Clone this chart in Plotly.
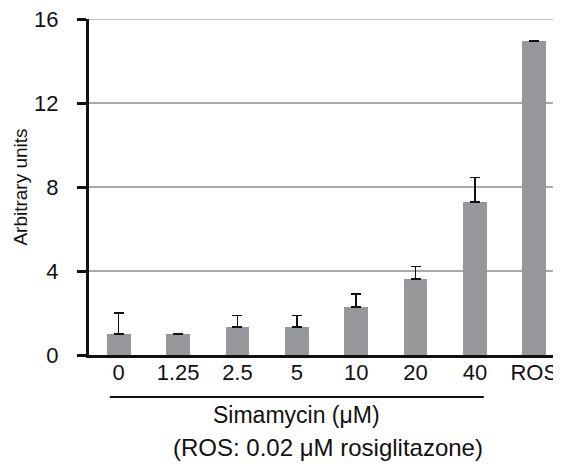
import plotly.graph_objects as go

categories = ["0", "1.25", "2.5", "5", "10", "20", "40", "ROS"]
values = [1.0, 1.0, 1.33, 1.33, 2.29, 3.62, 7.29, 14.95]
errors = [1.0, 0.0, 0.56, 0.56, 0.62, 0.59, 1.17, 0.0]
y_ticks = [0, 4, 8, 12, 16]

FONT = "Liberation Sans, Arial, sans-serif"

fig = go.Figure()
fig.add_trace(go.Bar(
    x=list(range(len(categories))),
    y=values,
    width=0.4,
    marker=dict(color="#96979b", line=dict(width=0)),
    error_y=dict(type="data", array=errors, symmetric=False, arrayminus=[0]*len(errors),
                 color="#111111", thickness=1.5, width=5),
))

# page body has an 8px default margin, so the figure is 8px smaller
fig.update_layout(
    width=553, height=458,
    margin=dict(l=81, r=0, t=11, b=111),
    paper_bgcolor="white", plot_bgcolor="white",
    showlegend=False,
    font=dict(family=FONT, color="#111111", size=21),
    bargap=0,
)
fig.update_xaxes(
    range=[-0.5, 7.45],
    tickmode="array", tickvals=list(range(len(categories))), ticktext=categories,
    showline=True, linecolor="#111111", linewidth=3,
    ticks="", showgrid=False, zeroline=False,
    tickfont=dict(size=22), ticklabelstandoff=-4, ticklabeloverflow="allow",
)
fig.update_yaxes(
    range=[0, 16],
    tickmode="array", tickvals=y_ticks, ticktext=[str(v) for v in y_ticks],
    showline=True, linecolor="#111111", linewidth=3,
    ticks="outside", ticklen=9, tickwidth=3, tickcolor="#111111",
    showgrid=True, gridcolor="#aaaaaa", gridwidth=1.5, zeroline=False,
    tickfont=dict(size=22), ticklabelstandoff=14, ticklabeloverflow="allow",
    title=dict(text="Arbitrary units", font=dict(size=19), standoff=2),
)

# top gridline (plotly drops the grid line lying on the plot edge)
fig.add_shape(type="line", xref="paper", yref="y", x0=0, x1=1, y0=y_ticks[-1], y1=y_ticks[-1],
              line=dict(color="#aaaaaa", width=1.5), layer="below")

fig.add_shape(type="line", xref="x", yref="paper", x0=-0.15, x1=6.15, y0=-0.125, y1=-0.125,
              line=dict(color="#111111", width=2))
fig.add_annotation(text="Simamycin (μM)", xref="x", yref="paper", x=3.0, y=-0.1786,
                   showarrow=False, xanchor="center", yanchor="middle", font=dict(size=23))
fig.add_annotation(text="(ROS: 0.02 μM rosiglitazone)", xref="x", yref="paper", x=3.52, y=-0.275,
                   showarrow=False, xanchor="center", yanchor="middle", font=dict(size=24))

fig.write_html("out.html")
